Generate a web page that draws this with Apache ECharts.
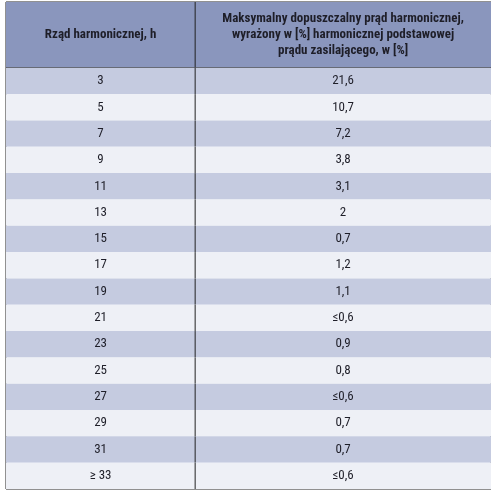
<!DOCTYPE html><html><head><meta charset="utf-8"><script src="https://cdn.jsdelivr.net/npm/echarts@6/dist/echarts.min.js"></script>
<style>html,body{margin:0;padding:0;background:#fff}#c{width:491px;height:491px}</style></head><body><div id="c"></div>
<script>
var headers=["Rząd harmonicznej, h","Maksymalny dopuszczalny prąd harmonicznej,\nwyrażony w [%] harmonicznej podstawowej\nprądu zasilającego, w [%]"];
var orders=["3","5","7","9","11","13","15","17","19","21","23","25","27","29","31","≥ 33"];
var limits=["21,6","10,7","7,2","3,8","3,1","2","0,7","1,2","1,1","≤0,6","0,9","0,8","≤0,6","0,7","0,7","≤0,6"];
var HEAD=2.5, DIV=0.39;
var font='"Liberation Sans Narrow","Roboto Condensed","DejaVu Sans Condensed",sans-serif';
var data=[[-1]].concat(orders.map(function(_,i){return [i];}));
var chart=echarts.init(document.getElementById('c'));
function renderItem(params,api){
  var i=api.value(0);
  var y0=i<0?0:HEAD+i, y1=i<0?HEAD:HEAD+i+1;
  var p0=api.coord([0,y0]), p1=api.coord([1,y1]), pd=api.coord([DIV,y0]);
  var fill=i<0?'#8a96bd':(i%2===0?'#c5cbe0':'#eef0f6');
  var ch=[{type:'rect',shape:{x:p0[0],y:p0[1],width:p1[0]-p0[0],height:p1[1]-p0[1]},style:{fill:fill}}];
  var t1=i<0?headers[0]:orders[i], t2=i<0?headers[1]:limits[i];
  var cy=(p0[1]+p1[1])/2;
  var st={fill:'#1e1e28',font:(i<0?'bold 13px ':'13px ')+font,align:'center',verticalAlign:'middle',lineHeight:16};
  ch.push({type:'text',style:Object.assign({},st,{x:(p0[0]+pd[0])/2,y:cy,text:t1})});
  ch.push({type:'text',style:Object.assign({},st,{x:(pd[0]+p1[0])/2,y:cy,text:t2})});
  ch.push({type:'line',shape:{x1:pd[0],y1:p0[1],x2:pd[0],y2:p1[1]},style:{stroke:'#222',lineWidth:1}});
  if(i<0)ch.push({type:'line',shape:{x1:p0[0],y1:p1[1],x2:p1[0],y2:p1[1]},style:{stroke:'#222',lineWidth:1}});
  return {type:'group',children:ch};
}
chart.setOption({
  animation:false,
  grid:{left:6,right:0,top:2,bottom:2,show:true,borderColor:'#222',borderWidth:1},
  xAxis:{type:'value',min:0,max:1,show:false},
  yAxis:{type:'value',min:0,max:HEAD+orders.length,inverse:true,show:false},
  series:[{type:'custom',renderItem:renderItem,data:data,clip:false}]
});
</script></body></html>
